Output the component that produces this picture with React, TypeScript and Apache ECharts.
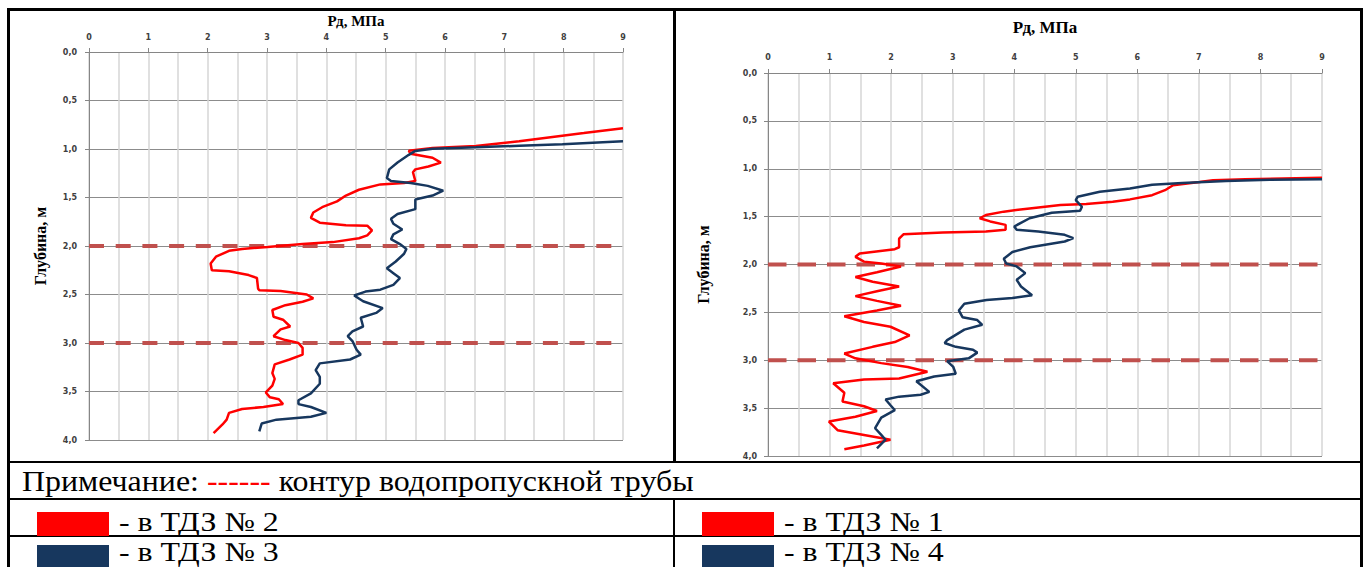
import React, { useEffect, useRef } from "react";
import * as echarts from "echarts";

// ---------- data: [Рд, МПа ; depth, м] ----------
// left chart
const tdz2: [number, number][] = [
  [9.0, 0.785], [8.34, 0.836], [7.25, 0.92], [6.52, 0.97], [5.79, 0.99], [5.39, 1.017], [5.42, 1.05],
  [5.79, 1.09], [5.93, 1.14], [5.72, 1.18], [5.5, 1.21], [5.46, 1.24], [5.5, 1.33], [5.31, 1.35],
  [4.91, 1.365], [4.55, 1.42], [4.33, 1.48], [4.18, 1.54], [3.93, 1.6], [3.78, 1.655], [3.74, 1.71],
  [3.89, 1.76], [4.33, 1.785], [4.69, 1.79], [4.77, 1.84], [4.69, 1.89], [4.55, 1.92], [4.11, 1.96],
  [3.6, 1.98], [3.01, 2.01], [2.58, 2.03], [2.36, 2.05], [2.14, 2.11], [2.05, 2.18], [2.07, 2.25],
  [2.36, 2.26], [2.69, 2.3], [2.83, 2.33], [2.85, 2.44], [2.87, 2.455], [3.23, 2.465], [3.67, 2.5],
  [3.78, 2.54], [3.6, 2.575], [3.31, 2.61], [3.09, 2.66], [3.11, 2.73], [3.27, 2.76], [3.39, 2.83],
  [3.23, 2.86], [3.11, 2.93], [3.31, 2.97], [3.53, 3.0], [3.6, 3.05], [3.6, 3.12], [3.38, 3.17],
  [3.13, 3.22], [3.09, 3.31], [3.13, 3.37], [3.09, 3.44], [2.98, 3.51], [3.05, 3.56], [3.2, 3.58],
  [3.27, 3.63], [2.94, 3.66], [2.58, 3.68], [2.36, 3.72], [2.32, 3.79], [2.25, 3.84], [2.1, 3.93],
];
const tdz3: [number, number][] = [
  [9.0, 0.92], [7.98, 0.95], [7.25, 0.966], [6.52, 0.983], [5.79, 0.997], [5.5, 1.02], [5.39, 1.06],
  [5.2, 1.14], [5.06, 1.21], [5.02, 1.3], [5.09, 1.33], [5.42, 1.35], [5.71, 1.38], [5.97, 1.43],
  [5.79, 1.48], [5.5, 1.52], [5.5, 1.62], [5.2, 1.67], [5.09, 1.72], [5.13, 1.77], [5.28, 1.83],
  [5.13, 1.88], [5.09, 1.93], [5.24, 1.98], [5.35, 2.03], [5.31, 2.08], [5.17, 2.16], [5.02, 2.23],
  [5.13, 2.28], [5.24, 2.33], [5.13, 2.4], [4.91, 2.45], [4.66, 2.47], [4.47, 2.51], [4.62, 2.57],
  [4.95, 2.64], [4.84, 2.69], [4.58, 2.74], [4.62, 2.83], [4.44, 2.88], [4.36, 2.93], [4.44, 2.98],
  [4.51, 3.07], [4.58, 3.12], [4.4, 3.17], [3.89, 3.21], [3.82, 3.28], [3.89, 3.35], [3.89, 3.42],
  [3.74, 3.52], [3.53, 3.59], [3.53, 3.63], [3.74, 3.66], [4.0, 3.72], [3.74, 3.76], [3.16, 3.79],
  [2.91, 3.83], [2.87, 3.91],
];
// right chart
const tdz1: [number, number][] = [
  [9.0, 1.093], [7.75, 1.11], [7.23, 1.12], [7.01, 1.138], [6.58, 1.172], [6.45, 1.224], [6.24, 1.276],
  [5.88, 1.32], [5.6, 1.345], [5.17, 1.369], [4.75, 1.379], [4.25, 1.414], [3.83, 1.448], [3.54, 1.483],
  [3.44, 1.517], [3.61, 1.55], [3.86, 1.586], [3.86, 1.638], [3.54, 1.655], [2.84, 1.665], [2.2, 1.685],
  [2.13, 1.73], [2.13, 1.82], [2.06, 1.84], [1.49, 1.885], [1.42, 1.92], [1.56, 1.97], [1.84, 1.99],
  [2.16, 2.02], [1.77, 2.08], [1.42, 2.13], [1.7, 2.18], [2.13, 2.23], [1.77, 2.28], [1.42, 2.33],
  [1.77, 2.38], [2.16, 2.43], [1.77, 2.48], [1.24, 2.54], [1.56, 2.6], [1.99, 2.65], [2.3, 2.74],
  [2.06, 2.81], [1.7, 2.86], [1.24, 2.93], [1.42, 2.98], [1.84, 3.03], [2.27, 3.07], [2.59, 3.12],
  [2.13, 3.19], [1.56, 3.2], [1.06, 3.24], [1.24, 3.34], [1.21, 3.43], [1.56, 3.48], [1.77, 3.53],
  [1.42, 3.59], [0.99, 3.64], [1.13, 3.73], [1.56, 3.78], [1.99, 3.83], [1.56, 3.89], [1.24, 3.93],
];
const tdz4: [number, number][] = [
  [9.0, 1.11], [8.15, 1.114], [7.44, 1.128], [6.73, 1.148], [6.24, 1.166], [5.88, 1.207], [5.39, 1.241],
  [5.03, 1.293], [5.0, 1.328], [5.1, 1.397], [5.07, 1.438], [4.61, 1.459], [4.25, 1.517], [4.0, 1.603],
  [4.04, 1.638], [4.39, 1.655], [4.82, 1.69], [4.96, 1.724], [4.82, 1.76], [4.26, 1.82], [3.97, 1.87],
  [3.83, 1.94], [3.87, 1.99], [4.04, 2.02], [4.18, 2.09], [4.04, 2.16], [4.11, 2.23], [4.29, 2.32],
  [3.97, 2.35], [3.55, 2.37], [3.19, 2.41], [3.1, 2.48], [3.16, 2.55], [3.4, 2.58], [3.48, 2.63],
  [3.19, 2.68], [2.91, 2.79], [2.87, 2.82], [3.05, 2.86], [3.33, 2.89], [3.4, 2.92], [3.26, 2.98],
  [2.91, 3.01], [3.01, 3.07], [3.05, 3.14], [2.7, 3.17], [2.41, 3.22], [2.62, 3.33], [2.48, 3.36],
  [2.13, 3.38], [1.91, 3.41], [1.99, 3.47], [2.06, 3.52], [1.84, 3.6], [1.74, 3.71], [1.84, 3.78],
  [1.91, 3.83], [1.77, 3.92],
];
// pipe contour depths
const pipeDepths = [2.0, 3.0];
const pRange = [0, 9];
const depthRange = [0, 4];

// texts
const xName = "Рд, МПа";
const yName = "Глубина, м";
const noteA = "Примечание: ";
const noteDash = "------";
const noteB = " контур водопропускной трубы";
const legendLeft = ["- в ТДЗ № 2", "- в ТДЗ № 3"];
const legendRight = ["- в ТДЗ № 1", "- в ТДЗ № 4"];

const RED = "#FF0000";
const NAVY = "#17375E";
const PIPE = "#C0504D";

export default function App() {
  const ref = useRef<HTMLDivElement>(null);
  useEffect(() => {
    const chart = echarts.init(ref.current!, null, { renderer: "svg" });

    const mkX = (gi: number, gap: number, fs: number, margin: number) => ({
      gridIndex: gi,
      type: "value",
      position: "top",
      min: pRange[0],
      max: pRange[1],
      interval: 1,
      name: xName,
      nameLocation: "middle",
      nameGap: gap,
      nameTextStyle: { fontFamily: "Liberation Serif", fontWeight: "bold", fontSize: fs, color: "#000" },
      axisLine: { show: true, onZero: false, lineStyle: { color: "#868686", width: 1 } },
      axisTick: { show: true, length: 4, lineStyle: { color: "#868686" } },
      axisLabel: { fontSize: 8, fontWeight: "bold", fontFamily: "DejaVu Sans", color: "#404040", margin },
      splitLine: { show: true, lineStyle: { color: "#d6d6d6", width: 1.5 } },
      minorTick: { show: false, splitNumber: 2 },
      minorSplitLine: { show: true, lineStyle: { color: "#d6d6d6", width: 1.5 } },
    });
    const mkY = (gi: number, gap: number, fs: number, margin: number) => ({
      gridIndex: gi,
      type: "value",
      inverse: true,
      min: depthRange[0],
      max: depthRange[1],
      interval: 0.5,
      name: yName,
      nameLocation: "middle",
      nameGap: gap,
      nameTextStyle: { fontFamily: "Liberation Serif", fontWeight: "bold", fontSize: fs, color: "#000" },
      axisLine: { show: true, onZero: false, lineStyle: { color: "#868686", width: 1 } },
      axisTick: { show: true, length: 4, lineStyle: { color: "#868686" } },
      axisLabel: {
        fontSize: 8, fontWeight: "bold", fontFamily: "DejaVu Sans", color: "#404040", margin,
        formatter: (v: number) => v.toFixed(1).replace(".", ","),
      },
      splitLine: { show: true, lineStyle: { color: "#8c8c8c", width: 1 } },
    });

    const curve = (gi: number, data: [number, number][], color: string) => ({
      type: "line",
      xAxisIndex: gi,
      yAxisIndex: gi,
      data,
      symbol: "none",
      showSymbol: false,
      z: 5,
      lineStyle: { color, width: 2.5 },
      itemStyle: { color },
    });
    const pipe = (gi: number, d: number, dash: number[]) => ({
      type: "line",
      xAxisIndex: gi,
      yAxisIndex: gi,
      data: [[pRange[0], d], [pRange[1], d]],
      symbol: "none",
      z: 3,
      lineStyle: { color: PIPE, width: 4, type: dash },
    });

    const serif = "Liberation Serif";
    const txt = (x: number, y: number, text: string) => ({
      type: "text",
      x, y,
      scaleX: 1.18,
      style: { text, fill: "#000", fontFamily: serif, fontSize: 27, lineHeight: 27, verticalAlign: "middle", align: "left" },
    });
    const rect = (x: number, y: number, w: number, h: number, fill: string) => ({
      type: "rect",
      shape: { x, y, width: w, height: h },
      style: { fill },
      silent: true,
    });

    const graphics: any[] = [
      rect(7, 8, 1356, 3, "#000"),
      rect(7, 8, 3, 570, "#000"),
      rect(1360, 8, 3, 570, "#000"),
      rect(673, 8, 3, 454, "#000"),
      rect(7, 461, 1356, 2, "#000"),
      rect(7, 498, 1356, 2, "#000"),
      rect(673, 499, 2, 80, "#000"),
      rect(7, 535, 1356, 2, "#000"),
      rect(37, 512, 72, 24, RED),
      rect(702, 512, 72, 24, RED),
      rect(37, 545, 72, 30, NAVY),
      rect(702, 545, 72, 30, NAVY),
      {
        type: "text",
        x: 22,
        y: 481,
        scaleX: 1.1,
        style: {
          text: `{a|${noteA}}{r|${noteDash}}{a|${noteB}}`,
          fontFamily: serif,
          fontSize: 29,
          verticalAlign: "middle",
          align: "left",
          rich: {
            a: { fontFamily: serif, fontSize: 29, fill: "#000" },
            r: { fontFamily: serif, fontSize: 29, fill: RED },
          },
        },
      },
      txt(119, 522, legendLeft[0]),
      txt(119, 552, legendLeft[1]),
      txt(784, 522, legendRight[0]),
      txt(784, 552, legendRight[1]),
    ];

    const option: any = {
      animation: false,
      backgroundColor: "#fff",
      grid: [
        { left: 89, top: 52, width: 534, height: 388 },
        { left: 768, top: 73, width: 554, height: 383 },
      ],
      xAxis: [mkX(0, 21, 15, 11), mkX(1, 37, 17, 12)],
      yAxis: [mkY(0, 41, 16, 12), mkY(1, 57, 16, 11)],
      series: [
        pipe(0, pipeDepths[0], [15, 11.7]),
        pipe(0, pipeDepths[1], [15, 11.7]),
        pipe(1, pipeDepths[0], [18.5, 11]),
        pipe(1, pipeDepths[1], [18.5, 11]),
        curve(0, tdz2, RED),
        curve(0, tdz3, NAVY),
        curve(1, tdz1, RED),
        curve(1, tdz4, NAVY),
      ],
      graphic: { elements: graphics },
    };
    chart.setOption(option);
    return () => chart.dispose();
  }, []);
  return (
    <div
      ref={ref}
      style={{ position: "absolute", left: 0, top: 0, width: 1366, height: 567, background: "#fff" }}
    />
  );
}
